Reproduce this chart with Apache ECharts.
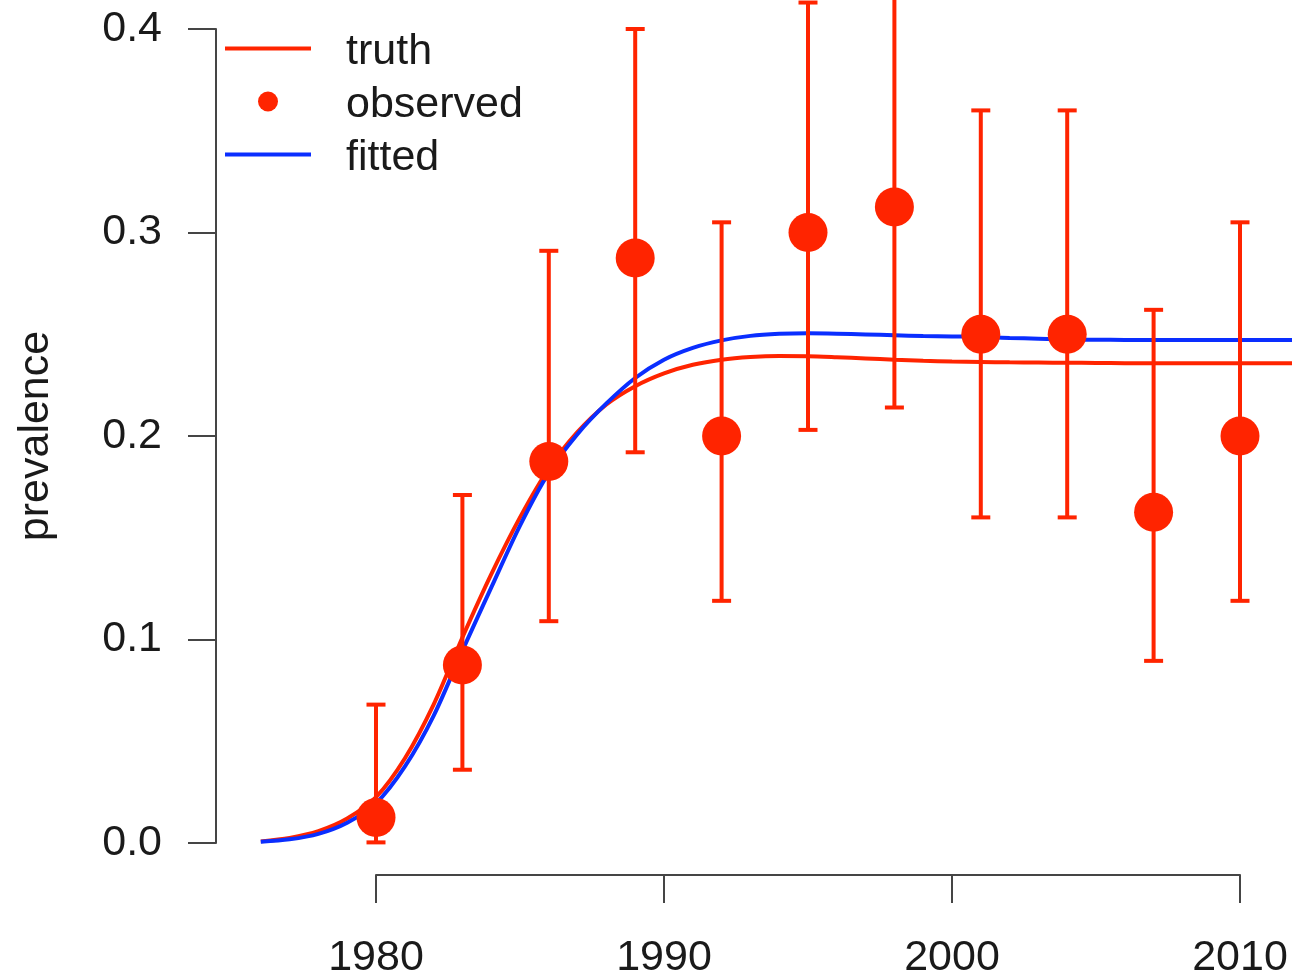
<!DOCTYPE html>
<html>
<head>
<meta charset="utf-8">
<title>prevalence</title>
<script src="https://cdn.jsdelivr.net/npm/echarts@6/dist/echarts.min.js"></script>
<style>
  html, body { margin: 0; padding: 0; background: #ffffff; }
  #chart { width: 1292px; height: 976px; }
</style>
</head>
<body>
<div id="chart"></div>
<script>
// Years at which the two prevalence curves are sampled
var curveYears = [1976, 1977, 1978, 1979, 1980, 1981, 1982, 1983, 1984, 1985,
                  1986, 1987, 1988, 1989, 1990, 1991, 1992, 1993, 1994, 1995,
                  1996, 1997, 1998, 1999, 2000, 2001, 2002, 2003, 2004, 2005,
                  2006, 2007, 2008, 2009, 2010, 2011, 2012];

// True prevalence
var truthValues = [0.0008, 0.0025, 0.0058, 0.0120, 0.0225, 0.0415, 0.0680, 0.1010, 0.1320, 0.1600,
                   0.1840, 0.2020, 0.2155, 0.2245, 0.2308, 0.2350, 0.2375, 0.2388, 0.2393, 0.2392,
                   0.2387, 0.2381, 0.2375, 0.2370, 0.2366, 0.2364, 0.2362, 0.2361, 0.2360, 0.2359,
                   0.2358, 0.2358, 0.2357, 0.2357, 0.2357, 0.2357, 0.2357];

// Fitted prevalence
var fittedValues = [0.0006, 0.0018, 0.0045, 0.0100, 0.0195, 0.0375, 0.0625, 0.0945, 0.1255, 0.1560,
                    0.1820, 0.2010, 0.2160, 0.2285, 0.2375, 0.2433, 0.2470, 0.2492, 0.2502, 0.2505,
                    0.2503, 0.2499, 0.2495, 0.2491, 0.2489, 0.2487, 0.2482, 0.2478, 0.2474, 0.2473,
                    0.2472, 0.2472, 0.2472, 0.2472, 0.2472, 0.2472, 0.2472];

// Survey rounds: observed prevalence with 95% interval
var surveyYears = [1980, 1983, 1986, 1989, 1992, 1995, 1998, 2001, 2004, 2007, 2010];
var observed    = [0.0125, 0.0875, 0.1875, 0.2875, 0.2000, 0.3000, 0.3125, 0.2500, 0.2500, 0.1625, 0.2000];
var lower       = [0.0003, 0.0360, 0.1090, 0.1920, 0.1190, 0.2030, 0.2140, 0.1600, 0.1600, 0.0895, 0.1190];
var upper       = [0.0680, 0.1710, 0.2910, 0.4000, 0.3050, 0.4130, 0.4250, 0.3600, 0.3600, 0.2620, 0.3050];

// Axis ticks
var xTicks = [1980, 1990, 2000, 2010];
var yTicks = [0.0, 0.1, 0.2, 0.3, 0.4];
// First year of the curves
var firstYear = 1976;

var RED = '#ff2400';
var BLUE = '#0a2eff';
var INK = '#1a1a1a';
var AXIS = '#454545';
var FONT = '"Liberation Sans", Arial, Helvetica, sans-serif';

function pairs(xs, ys) {
  return xs.map(function (x, i) { return [x, ys[i]]; });
}

// Plot frame: 1980..2010 spans x 376..1240 px, 0..0.4 spans y 843..29 px
var X0 = 376, X1 = 1240, W = 1292;
var PX_PER_YEAR = (X1 - X0) / (xTicks[xTicks.length - 1] - xTicks[0]);
// The data region runs from the first curve year to the right edge of the page
var dataLeft = X0 - (xTicks[0] - firstYear) * PX_PER_YEAR;
var lastVisibleYear = xTicks[xTicks.length - 1] + (W - X1) / PX_PER_YEAR;

var chart = echarts.init(document.getElementById('chart'), null, { renderer: 'canvas' });

var hiddenAxis = { show: false, splitLine: { show: false } };

var option = {
  backgroundColor: '#ffffff',
  animation: false,
  textStyle: { fontFamily: FONT },
  grid: [
    // grid 0: the drawn axes, detached from the data region
    { left: X0, right: W - X1, top: 29, bottom: 133, containLabel: false, outerBoundsMode: 'none' },
    // grid 1: data region with the same scale over a wider time span
    { left: dataLeft, right: 0, top: 29, bottom: 133, containLabel: false, outerBoundsMode: 'none' }
  ],
  legend: {
    orient: 'vertical',
    left: 225,
    top: 23,
    padding: 0,
    itemGap: 2,
    itemWidth: 86,
    itemHeight: 20,
    selectedMode: false,
    symbolKeepAspect: true,
    formatter: '{t|{name}}',
    textStyle: {
      color: INK,
      fontFamily: FONT,
      fontSize: 43,
      rich: {
        t: { fontSize: 43, lineHeight: 43, color: INK, fontFamily: FONT, padding: [8, 0, 0, 30] }
      }
    },
    data: [
      { name: 'truth', icon: 'path://M0,0L100,0L100,4.6L0,4.6Z' },
      { name: 'observed', icon: 'circle' },
      { name: 'fitted', icon: 'path://M0,0L100,0L100,4.6L0,4.6Z' }
    ]
  },
  xAxis: [
    {
      gridIndex: 0,
      type: 'value',
      min: xTicks[0],
      max: xTicks[xTicks.length - 1],
      interval: 10,
      offset: 32,
      splitLine: { show: false },
      axisLine: { show: true, onZero: false, lineStyle: { color: AXIS, width: 2 } },
      axisTick: { show: true, length: 28, lineStyle: { color: AXIS, width: 2 } },
      axisLabel: {
        margin: 62,
        fontSize: 43,
        color: INK,
        fontFamily: FONT,
        formatter: function (v) { return String(v); }
      }
    },
    Object.assign({ gridIndex: 1, type: 'value', min: firstYear, max: lastVisibleYear }, hiddenAxis)
  ],
  yAxis: [
    {
      gridIndex: 0,
      type: 'value',
      min: yTicks[0],
      max: yTicks[yTicks.length - 1],
      interval: 0.1,
      offset: 160,
      name: 'prevalence',
      nameLocation: 'middle',
      nameGap: 158,
      nameRotate: 90,
      nameTextStyle: { fontSize: 43, color: INK, fontFamily: FONT },
      splitLine: { show: false },
      axisLine: { show: true, onZero: false, lineStyle: { color: AXIS, width: 2 } },
      axisTick: { show: true, length: 28, lineStyle: { color: AXIS, width: 2 } },
      axisLabel: {
        margin: 54,
        fontSize: 43,
        color: INK,
        fontFamily: FONT,
        formatter: function (v) { return v.toFixed(1); }
      }
    },
    Object.assign({ gridIndex: 1, type: 'value', min: yTicks[0], max: yTicks[yTicks.length - 1] }, hiddenAxis)
  ],
  series: [
    {
      name: 'truth',
      type: 'line',
      xAxisIndex: 1,
      yAxisIndex: 1,
      data: pairs(curveYears, truthValues),
      symbol: 'none',
      smooth: 0.3,
      clip: false,
      z: 2,
      color: RED,
      lineStyle: { color: RED, width: 4 }
    },
    {
      name: 'fitted',
      type: 'line',
      xAxisIndex: 1,
      yAxisIndex: 1,
      data: pairs(curveYears, fittedValues),
      symbol: 'none',
      smooth: 0.3,
      clip: false,
      z: 3,
      color: BLUE,
      lineStyle: { color: BLUE, width: 4 }
    },
    {
      name: 'interval',
      type: 'custom',
      xAxisIndex: 1,
      yAxisIndex: 1,
      clip: false,
      z: 4,
      data: surveyYears.map(function (y, i) { return [y, lower[i], upper[i]]; }),
      encode: { x: 0, y: [1, 2] },
      renderItem: function (params, api) {
        var lo = api.coord([api.value(0), api.value(1)]);
        var hi = api.coord([api.value(0), api.value(2)]);
        var half = 9.5;
        var style = { stroke: RED, lineWidth: 4, fill: null };
        return {
          type: 'group',
          children: [
            { type: 'line', shape: { x1: lo[0], y1: lo[1], x2: hi[0], y2: hi[1] }, style: style },
            { type: 'line', shape: { x1: lo[0] - half, y1: lo[1], x2: lo[0] + half, y2: lo[1] }, style: style },
            { type: 'line', shape: { x1: hi[0] - half, y1: hi[1], x2: hi[0] + half, y2: hi[1] }, style: style }
          ]
        };
      }
    },
    {
      name: 'observed',
      type: 'scatter',
      xAxisIndex: 1,
      yAxisIndex: 1,
      data: pairs(surveyYears, observed),
      symbol: 'circle',
      symbolSize: 39,
      clip: false,
      z: 5,
      color: RED,
      itemStyle: { color: RED, opacity: 1 }
    }
  ]
};

chart.setOption(option);
</script>
</body>
</html>
